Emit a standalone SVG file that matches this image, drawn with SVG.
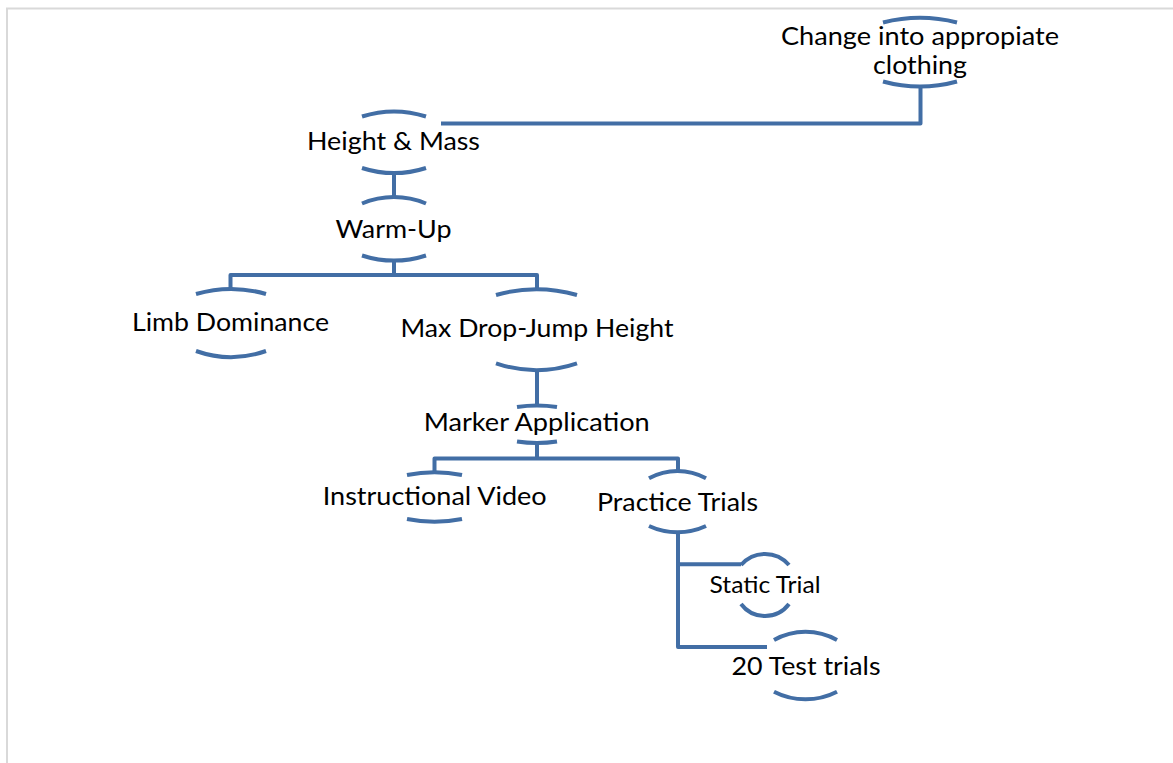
<svg xmlns="http://www.w3.org/2000/svg" width="1173" height="763" viewBox="0 0 1173 763">
<style>
.arc{fill:none;stroke:#426EA5;stroke-width:4;stroke-linecap:butt}
.con{fill:none;stroke:#426EA5;stroke-width:4;stroke-linejoin:round}
.lbl{font-family:Lato,"Liberation Sans",sans-serif;font-size:25px;fill:#000;text-anchor:middle}
.sm{font-size:23px}
.frame{fill:none;stroke:#d9d9d9;stroke-width:2}
</style>
<rect width="1173" height="763" fill="#fff"/>
<path class="frame" d="M7 763 V8.5 H1173"/>
<g id="connectors">
<path class="con" d="M920.5 86.5 V123.5 H441"/>
<path class="con" d="M394 172.5 V197"/>
<path class="con" d="M394 260.5 V275"/>
<path class="con" d="M230.5 289 V275 H537 V289.3"/>
<path class="con" d="M537 370 V406"/>
<path class="con" d="M537 443 V458.5"/>
<path class="con" d="M434.5 472.3 V458.5 H678 V471"/>
<path class="con" d="M678 532 V647 H767"/>
<path class="con" d="M678 564.3 H741"/>
</g>
<g id="node-clothing">
<path class="arc" d="M883 22.5 A150 150 0 0 1 957 22.5"/>
<path class="arc" d="M883 81.5 A140 140 0 0 0 957 81.5"/>
<text class="lbl" x="920" y="45" textLength="278" lengthAdjust="spacingAndGlyphs">Change into appropiate</text>
<text class="lbl" x="920" y="74" textLength="94" lengthAdjust="spacingAndGlyphs">clothing</text>
</g>
<g id="node-height-mass">
<path class="arc" d="M362 116.5 A105 105 0 0 1 426 116.5"/>
<path class="arc" d="M362 168 A105 105 0 0 0 426 168"/>
<text class="lbl" x="393.5" y="150" textLength="173" lengthAdjust="spacingAndGlyphs">Height &amp; Mass</text>
</g>
<g id="node-warm-up">
<path class="arc" d="M362 203.5 A82 82 0 0 1 426 203.5"/>
<path class="arc" d="M362 255.5 A105 105 0 0 0 426 255.5"/>
<text class="lbl" x="393.5" y="238.3" textLength="116" lengthAdjust="spacingAndGlyphs">Warm-Up</text>
</g>
<g id="node-limb-dominance">
<path class="arc" d="M196 294 A125 125 0 0 1 266 294"/>
<path class="arc" d="M196 351 A105 105 0 0 0 266 351"/>
<text class="lbl" x="230.5" y="330.7" textLength="197" lengthAdjust="spacingAndGlyphs">Limb Dominance</text>
</g>
<g id="node-max-drop-jump">
<path class="arc" d="M496 295 A147 147 0 0 1 577 295"/>
<path class="arc" d="M496 363.3 A126 126 0 0 0 577 363.3"/>
<text class="lbl" x="537" y="337.3" textLength="273" lengthAdjust="spacingAndGlyphs">Max Drop-Jump Height</text>
</g>
<g id="node-marker-application">
<path class="arc" d="M517 407 A134 134 0 0 1 557 407"/>
<path class="arc" d="M517 441.5 A134 134 0 0 0 557 441.5"/>
<text class="lbl" x="536.7" y="431" textLength="226" lengthAdjust="spacingAndGlyphs">Marker Application</text>
</g>
<g id="node-instructional-video">
<path class="arc" d="M407 475 A141 141 0 0 1 462 475"/>
<path class="arc" d="M407 519 A141 141 0 0 0 462 519"/>
<text class="lbl" x="434.7" y="505" textLength="224" lengthAdjust="spacingAndGlyphs">Instructional Video</text>
</g>
<g id="node-practice-trials">
<path class="arc" d="M649 478.3 A59 59 0 0 1 706 478.3"/>
<path class="arc" d="M649 526 A68 68 0 0 0 706 526"/>
<text class="lbl" x="677.5" y="511" textLength="161" lengthAdjust="spacingAndGlyphs">Practice Trials</text>
</g>
<g id="node-static-trial">
<path class="arc" d="M741 565 A31.5 31.5 0 0 1 789 565"/>
<path class="arc" d="M741 604 A30 30 0 0 0 789 604"/>
<text class="lbl sm" x="765" y="593.3" textLength="111" lengthAdjust="spacingAndGlyphs">Static Trial</text>
</g>
<g id="node-test-trials">
<path class="arc" d="M774 640 A64 64 0 0 1 837 640"/>
<path class="arc" d="M774 691.7 A69 69 0 0 0 837 691.7"/>
<text class="lbl" x="806" y="675" textLength="149" lengthAdjust="spacingAndGlyphs">20 Test trials</text>
</g>
</svg>
